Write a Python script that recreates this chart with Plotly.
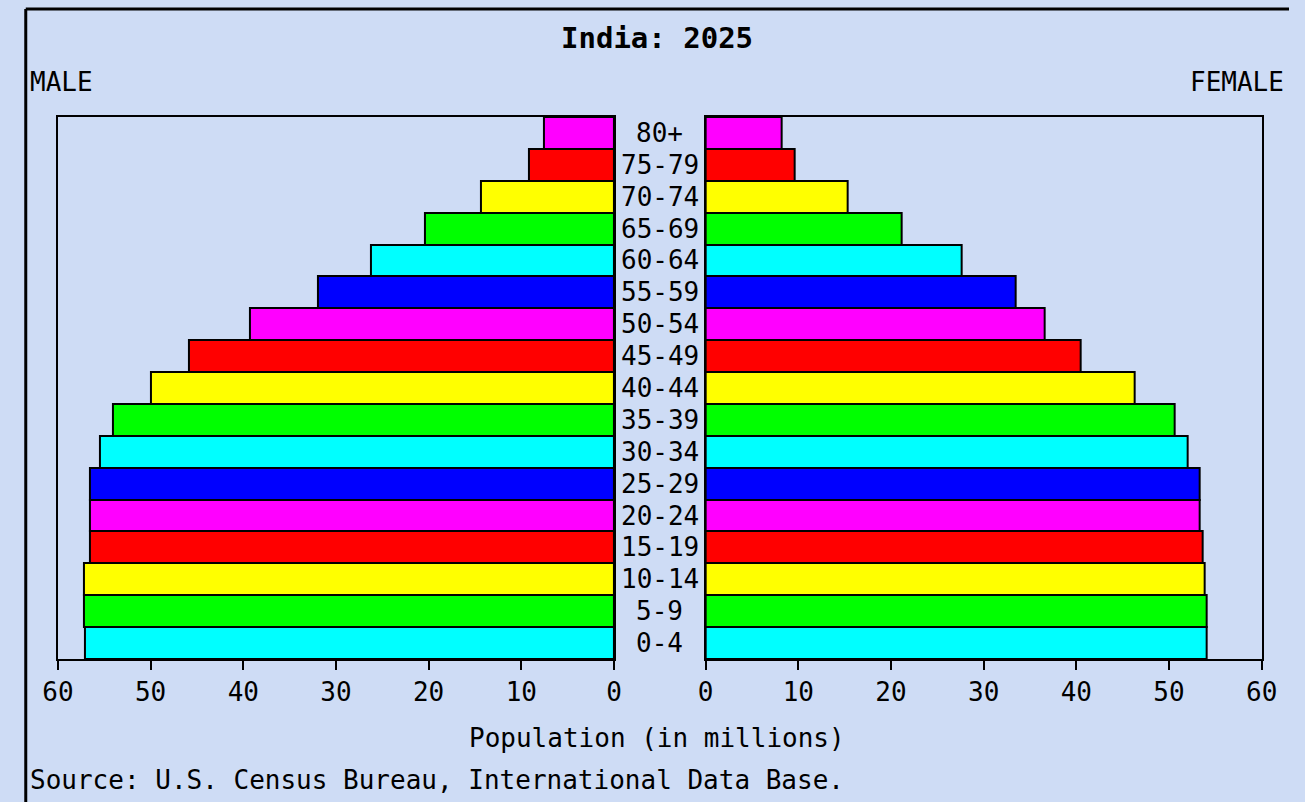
import plotly.graph_objects as go

# age groups, bottom to top
age_groups = ["0-4", "5-9", "10-14", "15-19", "20-24", "25-29", "30-34", "35-39",
              "40-44", "45-49", "50-54", "55-59", "60-64", "65-69", "70-74", "75-79", "80+"]
# population in millions
male = [57.1, 57.2, 57.2, 56.5, 56.5, 56.6, 55.5, 54.1,
        50.0, 45.9, 39.3, 31.9, 26.2, 20.4, 14.4, 9.2, 7.6]
female = [54.1, 54.1, 53.9, 53.6, 53.3, 53.3, 52.0, 50.6,
          46.3, 40.5, 36.6, 33.4, 27.6, 21.1, 15.3, 9.6, 8.2]
x_ticks = [0, 10, 20, 30, 40, 50, 60]

palette = ["#00ffff", "#00ff00", "#ffff00", "#ff0000", "#ff00ff", "#0000ff"]
bar_colors = [palette[i % len(palette)] for i in range(len(age_groups))]

W, H = 1305, 802
FONT = "DejaVu Sans Mono"
BG = "#cedcf5"


def px_x(x):
    return x / W


def px_y(y):
    return 1 - y / H


fig = go.Figure()
fig.add_trace(go.Bar(
    y=age_groups, x=male, orientation="h", xaxis="x", yaxis="y",
    marker=dict(color=bar_colors, line=dict(color="black", width=2)),
    hoverinfo="x+y", showlegend=False,
))
fig.add_trace(go.Bar(
    y=age_groups, x=female, orientation="h", xaxis="x2", yaxis="y2",
    marker=dict(color=bar_colors, line=dict(color="black", width=2)),
    hoverinfo="x+y", showlegend=False,
))

axis_common = dict(
    showline=True, linecolor="black", linewidth=2, mirror=True,
    showgrid=False, zeroline=False,
)
xaxis_common = dict(
    axis_common, tickvals=x_ticks, ticks="outside", ticklen=9, tickwidth=2,
    tickcolor="black", tickfont=dict(family=FONT, size=26, color="black"),
)
y_range = [-0.5, len(age_groups) - 0.5]

fig.update_layout(
    width=W, height=H,
    margin=dict(l=0, r=0, t=0, b=0),
    paper_bgcolor=BG, plot_bgcolor="rgba(0,0,0,0)",
    bargap=0,
    xaxis=dict(xaxis_common, domain=[px_x(43), px_x(613)], range=[60, 0], anchor="y"),
    xaxis2=dict(xaxis_common, domain=[px_x(707), px_x(1277)], range=[0, 60], anchor="y2"),
    yaxis=dict(axis_common, domain=[px_y(659), px_y(117)], range=y_range,
               showticklabels=False, anchor="x"),
    yaxis2=dict(axis_common, domain=[px_y(659), px_y(117)], range=y_range,
                showticklabels=False, anchor="x2"),
)

# age labels in the centre strip
for age in age_groups:
    fig.add_annotation(
        x=px_x(660), xref="paper", y=age, yref="y", text=age, showarrow=False,
        font=dict(family=FONT, size=26, color="black"), xanchor="center", yanchor="middle",
    )

text_font = dict(family=FONT, size=26, color="black")


def label(x, y, text, xanchor="center", font=text_font):
    fig.add_annotation(x=px_x(x), y=px_y(y), xref="paper", yref="paper", text=text,
                       showarrow=False, xanchor=xanchor, yanchor="middle", font=font)


label(657, 38, "<b>India: 2025</b>", font=dict(family=FONT, size=29, color="black"))
label(12, 82, "MALE", xanchor="left")
label(1302, 82, "FEMALE", xanchor="right")
label(657, 738, "Population (in millions)")
label(12, 780, "Source: U.S. Census Bureau, International Data Base.", xanchor="left")

# outer frame: only the left and top edges are inside the picture
frame = dict(color="black", width=3)
fig.add_shape(type="line", xref="paper", yref="paper",
              x0=px_x(10), x1=px_x(10), y0=0, y1=px_y(9), line=frame)
fig.add_shape(type="line", xref="paper", yref="paper",
              x0=px_x(10), x1=1, y0=px_y(9), y1=px_y(9), line=frame)

fig.write_html(
    "out.html",
    config={"displayModeBar": False},
    post_script="document.body.style.margin='0';document.body.style.overflow='hidden';",
)
